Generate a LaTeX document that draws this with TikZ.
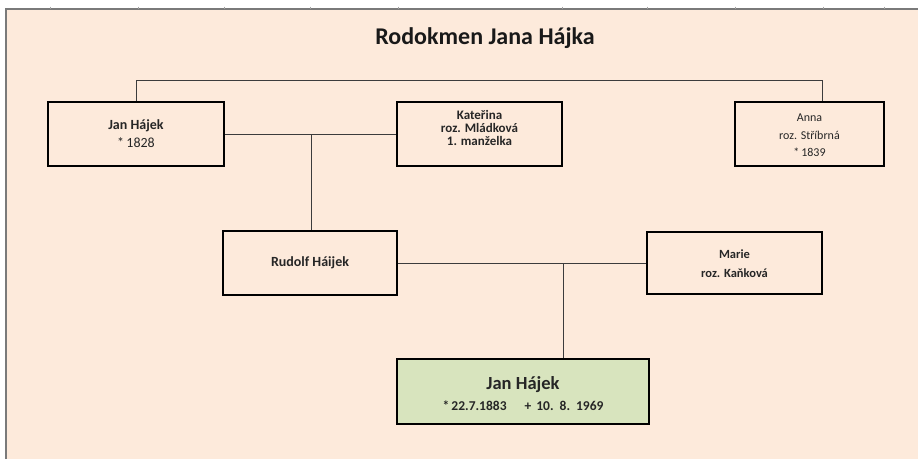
\documentclass[tikz,border=0pt]{standalone}
\usepackage{fontspec}
\setmainfont{Carlito}
\definecolor{bgbeige}{HTML}{FDEADB}
\definecolor{boxgreen}{HTML}{D8E4BE}
\definecolor{linegrey}{HTML}{3C3C3C}
\definecolor{framegrey}{HTML}{7A7A7A}
\definecolor{txt}{HTML}{262626}
\begin{document}
\begin{tikzpicture}[x=1pt,y=-1pt,
  person/.style={draw=black,line width=1.3pt,fill=bgbeige,inner sep=0pt},
  caption/.style={align=center,inner sep=0pt,text=txt},
  link/.style={draw=linegrey,line width=0.8pt}]
\useasboundingbox (0,0) rectangle (918,459);
\fill[white] (0,0) rectangle (918,459);
\fill[bgbeige] (6,9) rectangle (918,459);
\draw[framegrey,line width=1.2pt] (6,459) -- (6,9) -- (918,9);
\foreach \t in {50,138,224,310,398,562,647,735,823,884}
  \draw[framegrey!70,line width=0.6pt] (\t,6.5) -- (\t,9);
\node[font=\fontsize{24}{28}\selectfont\bfseries,text=black!90] (title) at (485,38) {Rodokmen Jana Hájka};
% top generation
\node[person,minimum width=176pt,minimum height=64pt] (jan1) at (136,134) {};
\node[caption,font=\fontsize{14}{18}\selectfont] (jan1t) at (jan1.center) {\textbf{Jan Hájek}\\*\,1828};
\node[person,minimum width=165pt,minimum height=64pt] (kat) at (479.5,134) {};
\node[caption,font=\fontsize{13}{12.8}\selectfont\bfseries] (katt) at (479.5,128) {Kateřina\\roz. Mládková\\1. manželka};
\node[person,minimum width=149pt,minimum height=64pt] (anna) at (809.5,134) {};
\node[caption,font=\fontsize{12}{17.5}\selectfont,text=black!85] (annat) at (809.5,135.5) {Anna\\roz. Stříbrná\\*\,1839};
% middle generation
\node[person,minimum width=174pt,minimum height=64pt] (rud) at (310,263) {};
\node[caption,font=\fontsize{14}{17}\selectfont\bfseries] (rudt) at (rud.center) {Rudolf Háijek};
\node[person,minimum width=175pt,minimum height=62pt] (marie) at (734.5,263) {};
\node[caption,font=\fontsize{12.5}{19}\selectfont\bfseries] (mariet) at (734.5,264) {Marie\\roz. Kaňková};
% bottom
\node[person,minimum width=252pt,minimum height=65pt,fill=boxgreen] (jan2) at (523,391.5) {};
\node[caption,font=\fontsize{13.5}{21}\selectfont\bfseries] (jan2t) at (523,394)
  {{\fontsize{18.5}{21}\selectfont Jan Hájek}\\*\,22.7.1883\hspace{18pt}{\spaceskip=5pt plus 1pt + 10. 8. 1969}};
% connectors
\coordinate (topL) at (jan1.north |- 0,80);
\draw[link] (jan1.north) -- (topL) -- (topL -| 822,0) -- (822,0 |- anna.north);
\coordinate (m1) at (311,0 |- jan1.east);
\draw[link] (jan1.east) -- (kat.west);
\draw[link] (m1) -- (311,0 |- rud.north);
\coordinate (m2) at (563,0 |- rud.east);
\draw[link] (rud.east) -- (marie.west);
\draw[link] (m2) -- (563,0 |- jan2.north);
\end{tikzpicture}
\end{document}
